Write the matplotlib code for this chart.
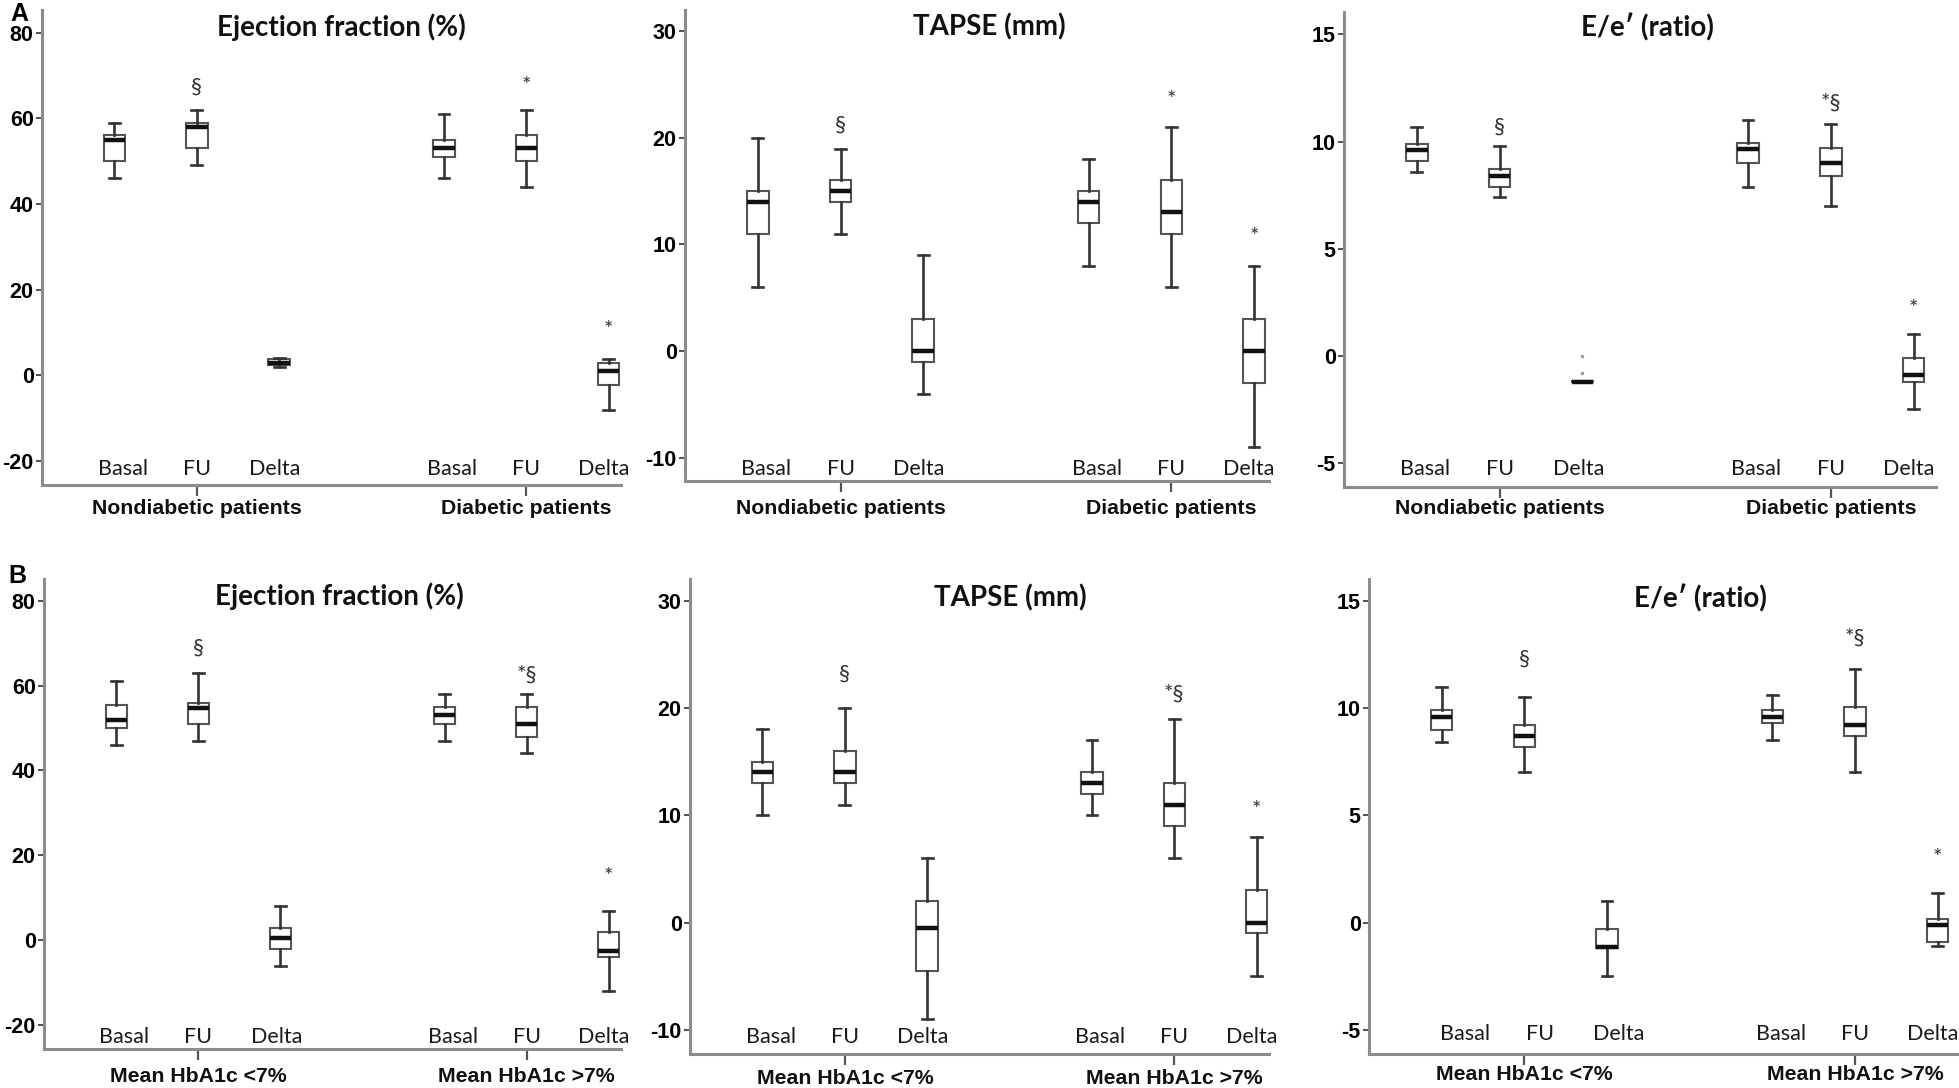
import matplotlib
matplotlib.use("Agg")
import matplotlib.pyplot as plt
import matplotlib.transforms as mtransforms

W, H = 1959, 1088
fig = plt.figure(figsize=(W / 100, H / 100), dpi=100)

# box positions and labels shared by every panel
positions = [1, 2, 3, 5, 6, 7]
cat_labels = ["Basal", "FU", "Delta", "Basal", "FU", "Delta"]
groups_a = ["Nondiabetic patients", "Diabetic patients"]
groups_b = ["Mean HbA1c <7%", "Mean HbA1c >7%"]
titles = ["Ejection fraction (%)", "TAPSE (mm)", "E/e\u2032 (ratio)"]

ef_ticks = [-20, 0, 20, 40, 60, 80]
tapse_ticks = [-10, 0, 10, 20, 30]
ee_ticks = [-5, 0, 5, 10, 15]

# five-number summaries: whisker low, Q1, median, Q3, whisker high
ef_a = [[46, 50, 55, 56, 59], [49, 53, 58, 59, 62], [2, 2.4, 3, 3.8, 4],
        [46, 51, 53, 55, 61], [44, 50, 53, 56, 62], [-8, -2.2, 1, 2.9, 3.9]]
tapse_a = [[6, 11, 14, 15, 20], [11, 14, 15, 16, 19], [-4, -1, 0, 3, 9],
           [8, 12, 14, 15, 18], [6, 11, 13, 16, 21], [-9, -3, 0, 3, 8]]
ee_a = [[8.6, 9.1, 9.6, 9.9, 10.7], [7.4, 7.9, 8.4, 8.7, 9.8], [-1.2, -1.22, -1.2, -1.17, -1.15],
        [7.9, 9.0, 9.65, 9.93, 11.0], [7.0, 8.4, 9.0, 9.7, 10.8], [-2.5, -1.2, -0.9, -0.1, 1.0]]
ef_b = [[46, 50, 52, 55.5, 61], [47, 51, 54.6, 56, 63], [-6, -2, 0.5, 3, 8],
        [47, 51, 53, 55, 58], [44, 48, 51, 55, 58], [-12, -4, -2.5, 2, 7]]
tapse_b = [[10, 13, 14, 15, 18], [11, 13, 14, 16, 20], [-9, -4.5, -0.5, 2, 6],
           [10, 12, 13, 14, 17], [6, 9, 11, 13, 19], [-5, -1, 0, 3, 8]]
ee_b = [[8.4, 9.0, 9.6, 9.9, 11.0], [7.0, 8.2, 8.7, 9.2, 10.5], [-2.5, -1.2, -1.15, -0.3, 1.0],
        [8.5, 9.3, 9.6, 9.9, 10.6], [7.0, 8.7, 9.2, 10.05, 11.8], [-1.1, -0.9, -0.1, 0.15, 1.4]]

# outliers (only E/e' delta, nondiabetic)
ee_a_fliers = [0.0, -0.8]

# significance marks: (box index, text, y value)
ef_a_marks = [(1, "\u00a7", 67.5), (4, "*", 67.5), (5, "*", 10.6)]
tapse_a_marks = [(1, "\u00a7", 21.2), (4, "*", 23.6), (5, "*", 10.7)]
ee_a_marks = [(1, "\u00a7", 10.7), (4, "*\u00a7", 11.8), (5, "*", 2.2)]
ef_b_marks = [(1, "\u00a7", 69), (4, "*\u00a7", 62.5), (5, "*", 14.8)]
tapse_b_marks = [(1, "\u00a7", 23.2), (4, "*\u00a7", 21.3), (5, "*", 10.5)]
ee_b_marks = [(1, "\u00a7", 12.3), (4, "*\u00a7", 13.3), (5, "*", 3.0)]

label_shift = [0.1, 0, -0.05, 0.1, 0, -0.06]
label_shift_b3 = [0.28, 0.19, 0.14, 0.1, 0, -0.06]

bold_font = ["Liberation Sans", "DejaVu Sans"]
soft_font = ["Lato", "DejaVu Sans"]

# panel layout in pixels: left, top, right, bottom, ylim, xmax, title xy, label y, group y
panels = [
    (42, 10, 621, 485, (-25.6, 85.3), 7.15, (341, 27), 469, 508,
     titles[0], ef_a, ef_ticks, ef_a_marks, groups_a, label_shift, None),
    (685, 10, 1269, 481, (-12.2, 32.0), 7.18, (989, 27), 469, 508,
     titles[1], tapse_a, tapse_ticks, tapse_a_marks, groups_a, label_shift, None),
    (1344, 12, 1936, 487, (-6.12, 16.05), 7.27, (1647, 27), 469, 509,
     titles[2], ee_a, ee_ticks, ee_a_marks, groups_a, label_shift, ee_a_fliers),
    (44, 579, 621, 1049, (-25.6, 85.1), 7.15, (339, 596), 1037, 1077,
     titles[0], ef_b, ef_ticks, ef_b_marks, groups_b, label_shift, None),
    (690, 579, 1269, 1054, (-12.26, 32.03), 7.15, (1010, 598), 1037, 1078,
     titles[1], tapse_b, tapse_ticks, tapse_b_marks, groups_b, label_shift, None),
    (1369, 579, 1959, 1054, (-6.13, 16.02), 7.26, (1700, 598), 1034, 1075,
     titles[2], ee_b, ee_ticks, ee_b_marks, groups_b, label_shift_b3, None),
]

for (l, t, r, b, ylim, xmax, title_xy, lab_y, grp_y,
     title, boxes, yticks, marks, groups, shifts, fliers) in panels:
    ax = fig.add_axes([l / W, 1 - b / H, (r - l) / W, (b - t) / H])
    stats = []
    for i, (lo, q1, med, q3, hi) in enumerate(boxes):
        fl = fliers if (fliers is not None and i == 2) else []
        stats.append(dict(whislo=lo, q1=q1, med=med, q3=q3, whishi=hi, fliers=fl))
    ax.bxp(stats, positions=positions, widths=0.26, capwidths=0.13,
           patch_artist=True, showfliers=True,
           boxprops=dict(facecolor="white", edgecolor="#555555", linewidth=1.5),
           whiskerprops=dict(color="#333333", linewidth=1.9),
           capprops=dict(color="#333333", linewidth=1.9),
           medianprops=dict(color="#111111", linewidth=3.2),
           flierprops=dict(marker="o", markersize=2.5, markerfacecolor="#999999",
                           markeredgecolor="none"))
    ax.set_xlim(0.12, xmax)
    ax.set_ylim(*ylim)
    ax.set_yticks(yticks)
    ax.set_yticklabels([str(v) for v in yticks], fontsize=15.5, fontweight="bold",
                       family=bold_font)
    ax.tick_params(axis="y", direction="out", length=4, width=1.2, color="#333333", pad=2)
    ax.set_xticks([positions[1], positions[4]])
    ax.set_xticklabels([])
    ax.tick_params(axis="x", direction="out", length=8, width=1.6, color="#555555")
    for side in ("top", "right"):
        ax.spines[side].set_visible(False)
    for side in ("left", "bottom"):
        ax.spines[side].set_color("#8c8c8c")
        ax.spines[side].set_linewidth(2.2)

    tr = mtransforms.blended_transform_factory(ax.transData, fig.transFigure)
    for p, s, lab in zip(positions, shifts, cat_labels):
        ax.text(p + s, 1 - lab_y / H, lab, transform=tr, ha="center", va="center",
                fontsize=15.5, family=soft_font, color="#1a1a1a")
    for p, g in zip([positions[1], positions[4]], groups):
        ax.text(p, 1 - grp_y / H, g, transform=tr, ha="center", va="center",
                fontsize=15.3, fontweight="bold", family=bold_font, color="#111111",
                clip_on=False)
    for idx, txt, yv in marks:
        ax.text(positions[idx], yv, txt, ha="center", va="center", fontsize=16,
                family=soft_font, color="#333333")
    fig.text(title_xy[0] / W, 1 - title_xy[1] / H, title, ha="center", va="center",
             fontsize=20, fontweight="bold", family=soft_font, color="#111111")

fig.text(19 / W, 1 - 14 / H, "A", ha="center", va="center", fontsize=18,
         fontweight="bold", family=bold_font)
fig.text(17 / W, 1 - 576 / H, "B", ha="center", va="center", fontsize=18,
         fontweight="bold", family=bold_font)

fig.savefig("out.png", dpi=100, facecolor="white")
